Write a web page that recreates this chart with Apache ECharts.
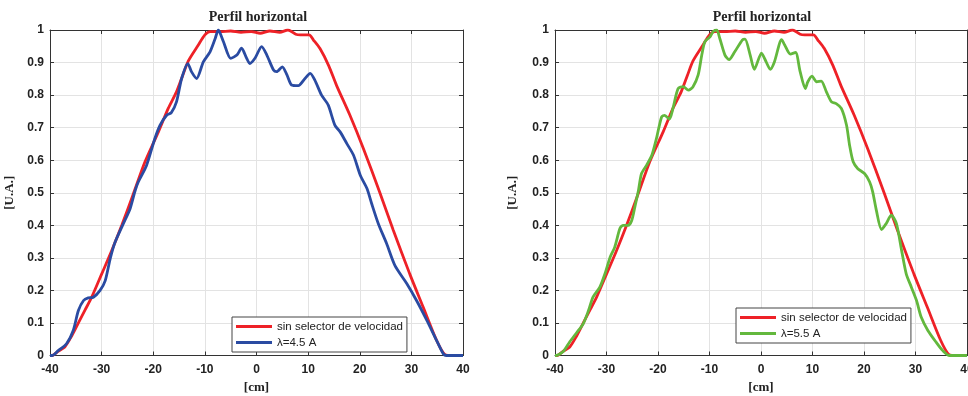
<!DOCTYPE html>
<html>
<head>
<meta charset="utf-8">
<script src="https://cdn.jsdelivr.net/npm/echarts@6/dist/echarts.min.js"></script>
<style>
  html, body { margin: 0; padding: 0; background: #fff; }
  #chart { width: 968px; height: 396px; }
</style>
</head>
<body>
<div id="chart"></div>
<script>
// Horizontal beam profile: reference without velocity selector vs. two wavelengths
const xTicks = [-40, -30, -20, -10, 0, 10, 20, 30, 40];
const yTicks = [0, 0.1, 0.2, 0.3, 0.4, 0.5, 0.6, 0.7, 0.8, 0.9, 1];

const nameRef = 'sin selector de velocidad';
const nameA = 'λ=4.5 A';
const nameB = 'λ=5.5 A';

// Profile without velocity selector (position in cm, intensity in a.u.)
const refX = [-40, -39.6, -38.5, -37.1, -35.8, -34.5, -33.2, -31.9, -30, -28.1, -26.1, -24, -21.6, -19, -17.1, -15.5, -14.3, -13.2, -11.3, -10, -9, -7, -5, -3, -1, 0.7, 2.6, 4.5, 6.1, 7.6, 8.5, 10.2, 11, 12.3, 14, 15.5, 18.1, 20.7, 23.9, 26.5, 29.7, 32.3, 34.9, 36.5, 38, 40];
const refY = [0, 0, 0.012, 0.027, 0.06, 0.10, 0.14, 0.18, 0.25, 0.32, 0.40, 0.49, 0.595, 0.687, 0.759, 0.81, 0.86, 0.905, 0.953, 0.985, 0.995, 0.995, 0.997, 0.993, 0.995, 0.99, 0.997, 0.993, 1.0, 0.987, 0.985, 0.985, 0.97, 0.943, 0.89, 0.83, 0.738, 0.636, 0.5, 0.385, 0.25, 0.148, 0.046, 0.003, 0, 0];

// Profile at 4.5 A
const aX = [-40, -39.6, -38.4, -36.8, -35.5, -34.5, -33.5, -32.6, -31.6, -30.3, -29.3, -28.3, -27.4, -25.5, -24.5, -23.5, -22.9, -21.3, -19.7, -18.7, -17.4, -16.5, -15.5, -14.5, -13.3, -12.6, -11.6, -10.3, -9.0, -8.0, -7.4, -6.4, -5.0, -3.8, -2.9, -1.9, -1.3, -0.3, 1.0, 2.0, 3.3, 3.9, 5.0, 5.9, 6.8, 8.1, 9.4, 10.4, 11.3, 12.6, 13.9, 15.2, 16.2, 17.5, 18.8, 20.1, 21.4, 22.3, 23.6, 25.2, 26.8, 29.1, 31.0, 33.0, 34.9, 36.2, 36.8, 40];
const aY = [0, 0, 0.015, 0.036, 0.077, 0.138, 0.169, 0.177, 0.179, 0.2, 0.23, 0.30, 0.348, 0.415, 0.45, 0.507, 0.533, 0.584, 0.666, 0.707, 0.738, 0.746, 0.779, 0.851, 0.897, 0.872, 0.851, 0.902, 0.933, 0.974, 1.0, 0.964, 0.913, 0.923, 0.944, 0.913, 0.897, 0.913, 0.949, 0.923, 0.877, 0.872, 0.887, 0.862, 0.831, 0.829, 0.851, 0.867, 0.846, 0.8, 0.769, 0.707, 0.687, 0.651, 0.615, 0.554, 0.513, 0.467, 0.405, 0.344, 0.277, 0.221, 0.169, 0.108, 0.046, 0.005, 0, 0];

// Profile at 5.5 A
const bX = [-40, -39.8, -38.4, -37.1, -35.8, -34.5, -33.5, -32.6, -31.3, -30.3, -29.3, -28.4, -27.4, -26.8, -25.8, -25.1, -24.5, -23.8, -23.2, -22.2, -21.2, -20.3, -19.3, -18.7, -17.8, -17.1, -16.1, -15.1, -14.1, -13.2, -12.2, -11.5, -10.9, -9.9, -9.3, -8.6, -8.0, -7.0, -6.2, -5.1, -3.6, -3.1, -2.1, -1.3, 0.1, 1.0, 1.8, 2.6, 4.0, 4.6, 5.7, 6.7, 7.6, 8.6, 9.1, 9.9, 10.8, 11.7, 12.7, 13.7, 14.6, 15.6, 16.6, 17.2, 17.9, 18.8, 20.1, 21.1, 21.7, 22.4, 23.4, 24.3, 25.3, 26.3, 27.3, 28.2, 29.2, 30.2, 31.1, 32.4, 34.0, 35.3, 36.6, 40];
const bY = [0, 0, 0.012, 0.043, 0.07, 0.098, 0.138, 0.18, 0.21, 0.251, 0.302, 0.333, 0.39, 0.4, 0.4, 0.415, 0.456, 0.507, 0.559, 0.585, 0.615, 0.667, 0.733, 0.738, 0.726, 0.759, 0.82, 0.826, 0.815, 0.826, 0.862, 0.923, 0.964, 0.979, 0.995, 1.0, 0.974, 0.923, 0.909, 0.933, 0.97, 0.972, 0.923, 0.879, 0.929, 0.902, 0.879, 0.902, 0.97, 0.954, 0.926, 0.931, 0.872, 0.82, 0.841, 0.858, 0.841, 0.843, 0.81, 0.779, 0.774, 0.759, 0.708, 0.646, 0.595, 0.574, 0.559, 0.533, 0.502, 0.446, 0.387, 0.405, 0.431, 0.405, 0.323, 0.251, 0.21, 0.169, 0.118, 0.077, 0.041, 0.015, 0, 0];

const RED = '#ee2127';
const BLUE = '#2a4ba2';
const GREEN = '#63b83d';

const pairs = (xs, ys) => xs.map((x, i) => [x, ys[i]]);
const fmtY = v => String(Math.round(v * 10) / 10);

const tickFont = { fontFamily: 'Liberation Sans, Arial, sans-serif', fontWeight: 'bold', fontSize: 12, color: '#222' };
const serifBold = { fontFamily: 'Liberation Serif, Times New Roman, serif', fontWeight: 'bold', fontSize: 13, color: '#222' };
const titleFont = Object.assign({}, serifBold, { fontSize: 14 });

function xAxisPair(gridIndex) {
  const base = {
    type: 'value', gridIndex, min: xTicks[0], max: xTicks[xTicks.length - 1], interval: 10,
    axisLine: { show: true, onZero: false, lineStyle: { color: '#333', width: 1 } },
    axisTick: { show: true, inside: true, length: 4, lineStyle: { color: '#333' } },
    splitLine: { show: false }
  };
  return [
    Object.assign({}, base, {
      position: 'bottom',
      axisLabel: Object.assign({ margin: 8 }, tickFont),
      splitLine: { show: true, lineStyle: { color: '#e3e3e3', width: 1 } },
      name: '[cm]', nameLocation: 'middle', nameGap: 26, nameTextStyle: serifBold
    }),
    Object.assign({}, base, { position: 'top', axisLabel: { show: false } })
  ];
}

function yAxisPair(gridIndex, gap) {
  const base = {
    type: 'value', gridIndex, min: yTicks[0], max: yTicks[yTicks.length - 1], interval: 0.1,
    axisLine: { show: true, onZero: false, lineStyle: { color: '#333', width: 1 } },
    axisTick: { show: true, inside: true, length: 4, lineStyle: { color: '#333' } },
    splitLine: { show: false }
  };
  return [
    Object.assign({}, base, {
      position: 'left',
      axisLabel: Object.assign({ margin: 6, formatter: fmtY }, tickFont),
      splitLine: { show: true, lineStyle: { color: '#e3e3e3', width: 1 } },
      name: '[U.A.]', nameLocation: 'middle', nameRotate: 90, nameGap: gap, nameTextStyle: serifBold
    }),
    Object.assign({}, base, { position: 'right', axisLabel: { show: false } })
  ];
}

function legendBox(left, top, names) {
  return {
    left, top, orient: 'vertical',
    data: names,
    icon: 'rect', itemWidth: 36, itemHeight: 3, itemGap: 3,
    padding: [3, 4, 3, 4],
    borderColor: '#444', borderWidth: 1, borderRadius: 0,
    backgroundColor: '#fff',
    selectedMode: false,
    textStyle: { fontFamily: 'Liberation Sans, Arial, sans-serif', fontSize: 11.5, color: '#222', lineHeight: 13 }
  };
}

function lineSeries(name, xi, yi, xs, ys, color) {
  return {
    name, type: 'line', xAxisIndex: xi, yAxisIndex: yi,
    data: pairs(xs, ys), smooth: 0.25, showSymbol: false, symbol: 'none',
    lineStyle: { color, width: 2.8 }, itemStyle: { color },
    animation: false, z: 3
  };
}

const chart = echarts.init(document.getElementById('chart'), null, { renderer: 'canvas' });
chart.setOption({
  animation: false,
  backgroundColor: '#fff',
  title: [
    { text: 'Perfil horizontal', left: 258, top: 10, textAlign: 'center', textStyle: titleFont, padding: 0 },
    { text: 'Perfil horizontal', left: 762, top: 10, textAlign: 'center', textStyle: titleFont, padding: 0 }
  ],
  grid: [
    { left: 50, top: 30, width: 413, height: 325.5, outerBoundsMode: 'none', containLabel: false },
    { left: 555, top: 30, width: 412, height: 325.5, outerBoundsMode: 'none', containLabel: false }
  ],
  xAxis: [...xAxisPair(0), ...xAxisPair(1)],
  yAxis: [...yAxisPair(0, 34), ...yAxisPair(1, 36)],
  legend: [
    legendBox(232, 317, [nameRef, nameA]),
    legendBox(736, 308, [nameRef, nameB])
  ],
  series: [
    lineSeries(nameRef, 0, 0, refX, refY, RED),
    lineSeries(nameA, 0, 0, aX, aY, BLUE),
    lineSeries(nameRef, 2, 2, refX, refY, RED),
    lineSeries(nameB, 2, 2, bX, bY, GREEN)
  ]
});
</script>
</body>
</html>
